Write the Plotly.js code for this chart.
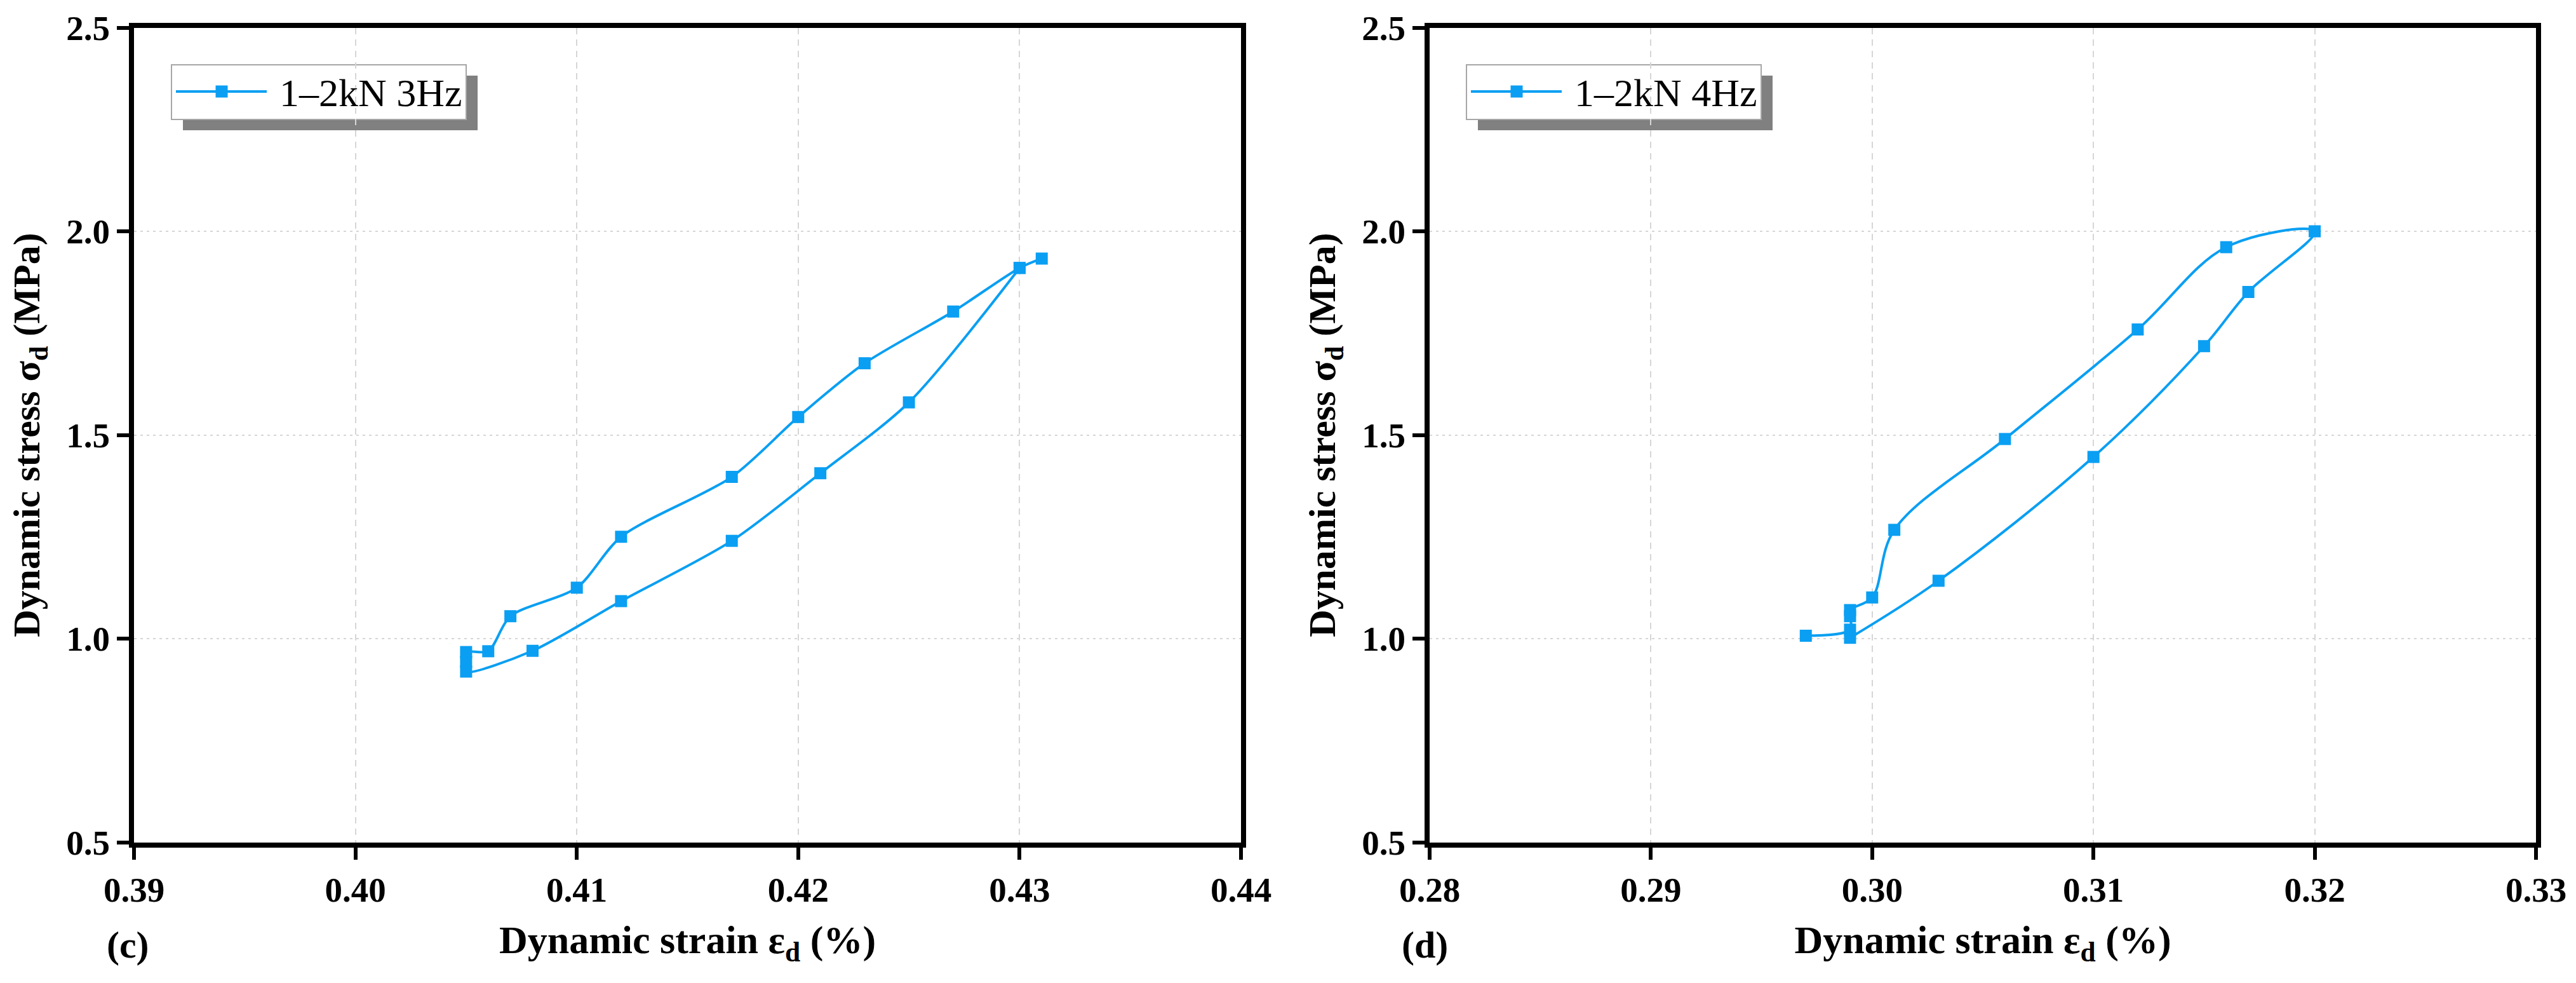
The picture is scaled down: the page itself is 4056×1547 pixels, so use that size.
<!DOCTYPE html>
<html>
<head>
<meta charset="utf-8">
<script src="https://cdn.plot.ly/plotly-3.0.1.min.js"></script>
<style>
  html, body { margin: 0; padding: 0; background: #fff; }
  #chart { width: 4056px; height: 1547px; }
</style>
</head>
<body>
<div id="chart"></div>
<script>
// panel (c): 1-2kN 3Hz loop
const strainC = [0.431, 0.430, 0.427, 0.423, 0.420, 0.417, 0.412, 0.410, 0.407, 0.406,
                 0.405, 0.405, 0.405, 0.408, 0.412, 0.417, 0.421, 0.425, 0.430];
const stressC = [1.933, 1.910, 1.803, 1.676, 1.544, 1.397, 1.250, 1.125, 1.055, 0.969,
                 0.967, 0.943, 0.919, 0.970, 1.092, 1.240, 1.406, 1.580, 1.910];

// panel (d): 1-2kN 4Hz loop
const strainD = [0.299, 0.303, 0.310, 0.315, 0.317, 0.320, 0.316, 0.312, 0.306, 0.301,
                 0.300, 0.299, 0.299, 0.299, 0.297];
const stressD = [1.002, 1.142, 1.446, 1.718, 1.851, 2.000, 1.961, 1.759, 1.490, 1.267,
                 1.101, 1.070, 1.055, 1.022, 1.007];

const seriesNames = ['1\u20132kN 3Hz', '1\u20132kN 4Hz'];
const panelLabels = ['(c)', '(d)'];
const rangeC = [0.39, 0.44];
const rangeD = [0.28, 0.33];
const stressRange = [0.5, 2.5];

const W = 4056, H = 1547;
const px = (v) => v / W;          // pixel -> paper x
const py = (v) => 1 - v / H;      // pixel -> paper y

const blue = '#0a9ff2';
const serif = 'Liberation Serif, Times New Roman, serif';

const lineTrace = (x, y, name, xa, ya, smooth) => ({
    x: x,
    y: y,
    name: name,
    xaxis: xa,
    yaxis: ya,
    type: 'scatter',
    mode: 'lines+markers',
    line: { color: blue, width: 4, shape: 'spline', smoothing: smooth },
    marker: { symbol: 'square', size: 19, color: blue },
    showlegend: false,
    hoverinfo: 'x+y'
});

const xAxisBase = (domain, range, anchor) => ({
    domain: domain,
    range: range,
    anchor: anchor,
    dtick: 0.01,
    tick0: range[0],
    tickformat: '.2f',
    ticks: 'outside',
    ticklen: 19,
    tickwidth: 6,
    tickcolor: '#000',
    showline: true,
    mirror: true,
    linewidth: 8,
    linecolor: '#000',
    showgrid: true,
    gridcolor: '#d6d6d6',
    gridwidth: 2,
    griddash: '10px,8px',
    zeroline: false,
    tickfont: { family: serif, size: 55, color: '#000', weight: 'bold' },
    title: {
        text: 'Dynamic strain \u03b5<sub>d</sub> (%)',
        font: { family: serif, size: 62, color: '#000', weight: 'bold' },
        standoff: 30
    }
});

const yAxisBase = (anchor) => ({
    domain: [py(1325.5), py(43.5)],
    range: stressRange,
    anchor: anchor,
    dtick: 0.5,
    tick0: 0.5,
    tickformat: '.1f',
    ticks: 'outside',
    ticklen: 19,
    tickwidth: 6,
    tickcolor: '#000',
    showline: true,
    mirror: true,
    linewidth: 8,
    linecolor: '#000',
    showgrid: true,
    gridcolor: '#d6d6d6',
    gridwidth: 2,
    griddash: '4px,6px',
    zeroline: false,
    tickfont: { family: serif, size: 55, color: '#000', weight: 'bold' },
    title: {
        text: 'Dynamic stress \u03c3<sub>d</sub> (MPa)',
        font: { family: serif, size: 60, color: '#000', weight: 'bold' },
        standoff: 25
    }
});

// hand-drawn legend box with drop shadow, as in the original figure
function legendShapes(boxLeft) {
    const top = 102, bottom = 188, width = 464, mid = 144;
    return [
        { type: 'rect', xref: 'paper', yref: 'paper', layer: 'below',
          x0: px(boxLeft + 18), x1: px(boxLeft + width + 18), y0: py(bottom + 17), y1: py(top + 17),
          fillcolor: '#808080', line: { width: 0 } },
        { type: 'rect', xref: 'paper', yref: 'paper', layer: 'below',
          x0: px(boxLeft), x1: px(boxLeft + width), y0: py(bottom), y1: py(top),
          fillcolor: '#fff', line: { color: '#a6a6a6', width: 2 } },
        { type: 'line', xref: 'paper', yref: 'paper',
          x0: px(boxLeft + 7), x1: px(boxLeft + 150), y0: py(mid), y1: py(mid),
          line: { color: blue, width: 4 } },
        { type: 'rect', xref: 'paper', yref: 'paper',
          x0: px(boxLeft + 79 - 9.5), x1: px(boxLeft + 79 + 9.5), y0: py(mid + 9.5), y1: py(mid - 9.5),
          fillcolor: blue, line: { width: 0 } }
    ];
}

const legendText = (boxLeft, text) => ({
    xref: 'paper', yref: 'paper',
    x: px(boxLeft + 168), y: py(146),
    xanchor: 'left', yanchor: 'middle',
    text: text, showarrow: false,
    font: { family: serif, size: 62, color: '#000' }
});

const panelText = (cx, text) => ({
    xref: 'paper', yref: 'paper',
    x: px(cx), y: py(1487),
    xanchor: 'center', yanchor: 'middle',
    text: text, showarrow: false,
    font: { family: serif, size: 60, color: '#000', weight: 'bold' }
});

const data = [
    lineTrace(strainC, stressC, seriesNames[0], 'x', 'y', 0.8),
    lineTrace(strainD, stressD, seriesNames[1], 'x2', 'y2', 1)
];

const layout = {
    width: W,
    height: H,
    margin: { l: 0, r: 0, t: 0, b: 0 },
    paper_bgcolor: '#fff',
    plot_bgcolor: 'rgba(0,0,0,0)',
    showlegend: false,
    xaxis: xAxisBase([px(211), px(1954)], rangeC, 'y'),
    yaxis: yAxisBase('x'),
    xaxis2: xAxisBase([px(2251), px(3993)], rangeD, 'y2'),
    yaxis2: yAxisBase('x2'),
    shapes: legendShapes(270).concat(legendShapes(2309)),
    annotations: [
        legendText(270, seriesNames[0]),
        legendText(2309, seriesNames[1]),
        panelText(201, panelLabels[0]),
        panelText(2243, panelLabels[1])
    ]
};

Plotly.newPlot('chart', data, layout, { staticPlot: true, displayModeBar: false });
</script>
</body>
</html>
